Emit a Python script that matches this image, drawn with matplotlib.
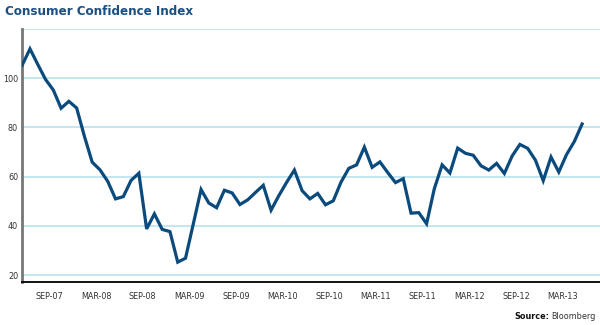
import pandas as pd
import matplotlib.pyplot as plt

# --- monthly index values, Jun 2007 - Jun 2013 ---
start_month = '2007-06'
index_values = [
    105.3, 111.9, 105.6, 99.5, 95.2, 87.8, 90.6,            # 2007
    87.9, 76.4, 65.9, 62.8, 58.1, 51.0, 51.9, 58.5, 61.4, 38.8, 44.9, 38.6,  # 2008
    37.7, 25.3, 26.9, 40.8, 54.8, 49.3, 47.4, 54.5, 53.4, 48.7, 50.6, 53.6,  # 2009
    56.5, 46.4, 52.3, 57.7, 62.7, 54.3, 51.0, 53.2, 48.6, 50.2, 57.8, 63.4,  # 2010
    64.8, 72.0, 63.8, 66.0, 61.7, 57.6, 59.2, 45.2, 45.4, 40.9, 55.2, 64.8,  # 2011
    61.5, 71.6, 69.5, 68.7, 64.4, 62.7, 65.4, 61.3, 68.4, 73.1, 71.5, 66.7,  # 2012
    58.4, 68.0, 61.9, 69.0, 74.3, 81.4,                                    # 2013
]
tick_labels = ['SEP-07', 'MAR-08', 'SEP-08', 'MAR-09', 'SEP-09', 'MAR-10',
               'SEP-10', 'MAR-11', 'SEP-11', 'MAR-12', 'SEP-12', 'MAR-13']
y_ticks = [20, 40, 60, 80, 100]

months = pd.period_range(start_month, periods=len(index_values), freq='M')
x = list(range(len(months)))
label_pos = [x[list(months.strftime('%b-%y').str.upper()).index(lbl)] for lbl in tick_labels]

plt.rcParams['font.family'] = ['DejaVu Sans']
plt.rcParams['font.stretch'] = 'condensed'

fig = plt.figure(figsize=(6, 3.25), dpi=100)
ax = fig.add_axes([0.037, 0.132, 0.963, 0.779])

for y in y_ticks + [120]:
    ax.axhline(y, color='#bfe4ef', lw=1.3, zorder=1)

ax.plot(x, index_values, color='#0b4a7d', lw=2.3, solid_joinstyle='miter', zorder=3)

ax.set_xlim(0, 74.3)
ax.set_ylim(17.2, 120)
ax.set_yticks(y_ticks)
ax.set_yticklabels([str(v) for v in y_ticks])
ax.set_xticks([p + 0.5 for p in label_pos])
ax.set_xticklabels(tick_labels)
ax.tick_params(length=0, labelsize=6.5, colors='#333333')
ax.tick_params(axis='x', pad=7)
ax.tick_params(axis='y', pad=3)

for side in ['top', 'right']:
    ax.spines[side].set_visible(False)
ax.spines['left'].set_color('#777777')
ax.spines['left'].set_linewidth(2)
ax.spines['bottom'].set_color('#111111')
ax.spines['bottom'].set_linewidth(1.4)

fig.text(0.008, 0.965, 'Consumer Confidence Index', color='#1b4f82',
         fontsize=9.5, fontweight='bold', va='center', ha='left')
fig.text(0.915, 0.025, 'Source:', fontsize=6.5, fontweight='bold',
         color='#111111', ha='right', va='center')
fig.text(0.918, 0.025, 'Bloomberg', fontsize=6.5, color='#333333',
         ha='left', va='center')

fig.savefig('out.png', dpi=100)
